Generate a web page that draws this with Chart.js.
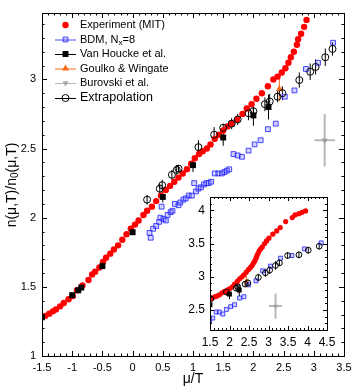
<!DOCTYPE html>
<html>
<head>
<meta charset="utf-8">
<script src="https://cdn.jsdelivr.net/npm/chart.js@4.4.1/dist/chart.umd.min.js"></script>
<style>
  html, body { margin: 0; padding: 0; background: #fff; }
  #wrap { position: relative; width: 363px; height: 391px; }
  #main { position: absolute; left: 0; top: 0; }
  #inset { position: absolute; left: 170px; top: 180px; }
</style>
</head>
<body>
<div id="wrap">
  <canvas id="main" width="363" height="391"></canvas>
  <canvas id="inset" width="180" height="175"></canvas>
</div>
<script>
const FONT = '"Liberation Sans", Arial, sans-serif'

const seriesNames = ['Experiment (MIT)', 'BDM, N', 'Van Houcke et al.', 'Goulko & Wingate', 'Burovski et al.', 'Extrapolation']

const mainXTicks = [-1.5, -1, -0.5, 0, 0.5, 1, 1.5, 2, 2.5, 3, 3.5]
const mainYTicks = [1, 1.5, 2, 2.5, 3]
const insetXTicks = [1.5, 2, 2.5, 3, 3.5, 4, 4.5]
const insetYTicks = [2.5, 3, 3.5, 4]

// main panel
const expMain = [[-1.45,1.29],[-1.38,1.306],[-1.32,1.323],[-1.27,1.337],[-1.2,1.359],[-1.14,1.383],[-1.06,1.41],[-0.99,1.433],
  [-0.92,1.475],[-0.83,1.51],[-0.73,1.55],[-0.67,1.59],[-0.62,1.61],[-0.55,1.64],[-0.49,1.68],[-0.44,1.71],[-0.37,1.74],
  [-0.31,1.77],[-0.24,1.8],[-0.17,1.84],[-0.1,1.88],[-0.03,1.92],[0.04,1.95],[0.1,1.98],[0.18,2.02],[0.24,2.05],[0.32,2.08],
  [0.39,2.12],[0.47,2.16],[0.55,2.2],[0.62,2.23],[0.69,2.26],[0.76,2.29],[0.83,2.32],[0.9,2.35],[0.97,2.39],[1.03,2.43],
  [1.1,2.46],[1.16,2.48],[1.23,2.5],[1.29,2.53],[1.36,2.57],[1.43,2.6],[1.5,2.63],[1.57,2.66],[1.64,2.68],[1.73,2.71],
  [1.82,2.75],[1.89,2.79],[1.97,2.82],[2.05,2.86],[2.14,2.9],[2.24,2.95],[2.33,3.0],[2.4,3.02],[2.47,3.05],[2.53,3.08],
  [2.58,3.12],[2.62,3.16],[2.67,3.2],[2.72,3.25],[2.74,3.29],[2.79,3.33],[2.84,3.38],[2.88,3.43]]
const bdmMain = [[0.28,1.89],[0.3,1.855],[0.34,1.92],[0.39,1.94],[0.44,1.97],[0.46,2.0],[0.48,2.08],[0.51,1.99],[0.55,1.98],
  [0.58,2.02],[0.63,2.04],[0.66,2.05],[0.7,2.1],[0.76,2.09],[0.79,2.11],[0.84,2.13],[0.88,2.14],[0.93,2.16],[0.98,2.16],
  [1.02,2.25],[1.05,2.19],[1.09,2.21],[1.13,2.22],[1.18,2.24],[1.22,2.25],[1.26,2.25],[1.3,2.26],[1.36,2.32],[1.42,2.32],
  [1.48,2.32],[1.52,2.33],[1.56,2.34],[1.6,2.35],[1.67,2.46],[1.74,2.45],[1.81,2.44],[1.92,2.485],[2.02,2.53],[2.12,2.56],
  [2.24,2.64],[2.37,2.68],[2.52,2.875],[2.68,2.92],[2.87,3.075],[3.07,3.12],[3.32,3.265]]
const vhMain = [[-1.5,1.28],[-1.0,1.44],[-0.9,1.475],[-0.85,1.495],[-0.5,1.65],[0,1.895],[0.5,2.15],[1.0,2.38],[1.5,2.58],[2.0,2.74],[2.25,2.8]]
const vhMainErr = [0.012,0.015,0.02,0.015,0.02,0.02,0.04,0.05,0.06,0.075,0.09]
const extMain = [[0.24,2.13],[0.45,2.21],[0.49,2.235],[0.65,2.31],[0.73,2.345],[0.76,2.355],[1.09,2.51],[1.35,2.6],[1.5,2.65],
  [1.64,2.68],[1.74,2.71],[1.92,2.755],[2.0,2.77],[2.19,2.82],[2.27,2.84],[2.4,2.875],[2.48,2.9],[2.76,2.995],[2.94,3.055],
  [3.03,3.09],[3.19,3.16],[3.31,3.22]]
const extMainErr = [0.035,0.035,0.04,0.035,0.035,0.025,0.05,0.055,0.03,0.04,0.04,0.05,0.06,0.05,0.055,0.04,0.05,0.055,0.06,0.055,0.063,0.048]
const gwPoint = [[2.43,2.93]]
const gwErrY = [0.09]
const gwErrX = [0.04]
const burPoint = [[3.18,2.56]]
const burErrY = [0.19]
const burErrX = [0.17]

// inset panel
const expInset = [[1.49,2.67],[1.56,2.68],[1.62,2.7],[1.68,2.71],[1.74,2.73],[1.81,2.76],[1.87,2.78],[1.94,2.8],[2.0,2.82],
  [2.07,2.85],[2.13,2.89],[2.2,2.93],[2.26,2.97],[2.32,3.0],[2.37,3.03],[2.43,3.07],[2.49,3.11],[2.54,3.14],[2.58,3.17],
  [2.62,3.21],[2.65,3.24],[2.68,3.28],[2.7,3.31],[2.73,3.35],[2.76,3.39],[2.8,3.42],[2.84,3.45],[2.9,3.5],[2.95,3.54],
  [3.01,3.58],[3.11,3.64],[3.21,3.69],[3.3,3.74],[3.44,3.83],[3.61,3.89],[3.68,3.93],[3.78,3.95],[3.86,3.97],[3.95,3.99]]
const bdmInset = [[1.49,2.34],[1.57,2.38],[1.66,2.47],[1.74,2.47],[1.83,2.44],[1.92,2.51],[2.03,2.55],[2.13,2.58],[2.26,2.68],
  [2.37,2.7],[2.49,2.88],[2.68,2.94],[2.85,3.09],[3.05,3.16],[3.31,3.28],[3.6,3.32],[3.92,3.42],[4.35,3.51]]
const vhInset = [[1.5,2.58],[2.0,2.74],[2.25,2.8]]
const vhInsetErr = [0.06,0.075,0.09]
const extInset = [[1.52,2.67],[1.92,2.77],[2.17,2.83],[2.21,2.85],[2.4,2.89],[2.47,2.91],[2.74,2.99],[2.92,3.06],[3.03,3.1],
  [3.18,3.17],[3.28,3.21],[3.49,3.32],[3.78,3.33],[4.02,3.4],[4.3,3.46]]
const extInsetErr = [0.03,0.05,0.05,0.055,0.04,0.05,0.055,0.06,0.055,0.063,0.048,0.05,0.05,0.05,0.05]

const toPts = a => a.map(p => ({ x: p[0], y: p[1] }))

const RED = '#ff0000'
const BLUE = 'rgba(30,30,255,0.8)'
const BLUE_FILL = 'rgba(110,110,255,0.3)'
const ORANGE = '#ff6a1a'
const GREY = 'rgba(150,150,150,0.8)'

function makeDatasets(d, s) {
  return [
    { data: toPts(d.ext), pointStyle: 'circle', radius: 3.5 * s, borderColor: '#000', backgroundColor: 'rgba(0,0,0,0)',
      borderWidth: 1, yErr: d.extErr, errColor: '#000' },
    { data: toPts(d.vh), pointStyle: 'rect', radius: 4.2 * s, borderColor: '#000', backgroundColor: '#000',
      borderWidth: 0, yErr: d.vhErr, errColor: '#000' },
    { data: toPts(d.exp), pointStyle: 'circle', radius: 3.2 * s, borderColor: RED, backgroundColor: RED, borderWidth: 0 },
    { data: toPts(d.bdm), pointStyle: 'rect', radius: 3.4 * s, borderColor: BLUE, backgroundColor: BLUE_FILL, borderWidth: 1 },
    { data: toPts(gwPoint), pointStyle: 'triangle', radius: 4 * s, borderColor: ORANGE, backgroundColor: ORANGE,
      borderWidth: 0, yErr: gwErrY, xErr: gwErrX, errColor: ORANGE },
    { data: toPts(burPoint), pointStyle: 'triangle', rotation: 180, radius: 3.5 * s, borderColor: GREY, backgroundColor: GREY,
      borderWidth: 0, yErr: burErrY, xErr: burErrX, errColor: 'rgba(160,160,160,0.75)', errWidth: 2 },
  ]
}

// frame with inward ticks on all four sides
const frameTicks = {
  id: 'frameTicks',
  beforeDraw(chart, args, o) {
    if (!o.white) return
    const a = chart.chartArea
    chart.ctx.save()
    chart.ctx.fillStyle = '#fff'
    chart.ctx.fillRect(a.left, a.top, a.right - a.left, a.bottom - a.top)
    chart.ctx.restore()
  },
  afterDraw(chart, args, o) {
    const { ctx, chartArea: a, scales: { x, y } } = chart
    ctx.save()
    ctx.strokeStyle = '#000'
    ctx.lineWidth = 1
    ctx.strokeRect(Math.round(a.left) + 0.5, Math.round(a.top) + 0.5, Math.round(a.right - a.left), Math.round(a.bottom - a.top))
    ctx.beginPath()
    const step = 0.1
    const isMajor = v => Math.abs(v / 0.5 - Math.round(v / 0.5)) < 1e-6
    for (let k = Math.ceil(x.min / step - 1e-6); k * step <= x.max + 1e-6; k++) {
      const v = k * step
      const len = isMajor(v) ? o.major : o.minor
      const px = Math.round(x.getPixelForValue(v)) + 0.5
      ctx.moveTo(px, a.bottom); ctx.lineTo(px, a.bottom - len)
      ctx.moveTo(px, a.top); ctx.lineTo(px, a.top + len)
    }
    for (let k = Math.ceil(y.min / step - 1e-6); k * step <= y.max + 1e-6; k++) {
      const v = k * step
      const len = isMajor(v) ? o.major : o.minor
      const py = Math.round(y.getPixelForValue(v)) + 0.5
      ctx.moveTo(a.left, py); ctx.lineTo(a.left + len, py)
      ctx.moveTo(a.right, py); ctx.lineTo(a.right - len, py)
    }
    ctx.stroke()
    ctx.restore()
  },
}

const errorBars = {
  id: 'errorBars',
  beforeDatasetsDraw(chart) {
    const { ctx, chartArea: a, scales: { x, y } } = chart
    ctx.save()
    ctx.beginPath()
    ctx.rect(a.left, a.top, a.right - a.left, a.bottom - a.top)
    ctx.clip()
    chart.data.datasets.forEach(ds => {
      if (!ds.yErr && !ds.xErr) return
      ctx.strokeStyle = ds.errColor
      ctx.lineWidth = ds.errWidth || 1
      ds.data.forEach((p, i) => {
        const px = x.getPixelForValue(p.x)
        const py = y.getPixelForValue(p.y)
        ctx.beginPath()
        if (ds.yErr) {
          ctx.moveTo(px, y.getPixelForValue(p.y - ds.yErr[i]))
          ctx.lineTo(px, y.getPixelForValue(p.y + ds.yErr[i]))
        }
        if (ds.xErr) {
          ctx.moveTo(x.getPixelForValue(p.x - ds.xErr[i]), py)
          ctx.lineTo(x.getPixelForValue(p.x + ds.xErr[i]), py)
        }
        ctx.stroke()
      })
    })
    ctx.restore()
  },
}

function marker(ctx, style, x, y, r, fill, stroke, rot) {
  ctx.save()
  ctx.fillStyle = fill
  ctx.strokeStyle = stroke
  ctx.lineWidth = 1
  Chart.helpers.drawPoint(ctx, { pointStyle: style, radius: r, rotation: rot || 0, borderWidth: stroke ? 1 : 0 }, x, y)
  ctx.restore()
}

// legend, axis titles (with subscripts)
const annotations = {
  id: 'annotations',
  afterDraw(chart) {
    const ctx = chart.ctx
    ctx.save()
    ctx.fillStyle = '#000'
    ctx.textBaseline = 'middle'
    const rows = [
      { y: 25, style: 'circle', r: 3.2, fill: RED, stroke: null, line: null },
      { y: 39.5, style: 'rect', r: 3.4, fill: BLUE_FILL, stroke: BLUE, line: BLUE },
      { y: 54, style: 'rect', r: 4.2, fill: '#000', stroke: null, line: '#000' },
      { y: 68.5, style: 'triangle', r: 4, fill: ORANGE, stroke: null, line: ORANGE },
      { y: 83, style: 'triangle', r: 3.5, fill: GREY, stroke: null, line: 'rgba(160,160,160,0.75)', rot: 180 },
      { y: 98, style: 'circle', r: 3.5, fill: 'rgba(0,0,0,0)', stroke: '#000', line: '#000' },
    ]
    rows.forEach((row, i) => {
      if (row.line) {
        ctx.strokeStyle = row.line
        ctx.lineWidth = 1
        ctx.beginPath()
        ctx.moveTo(55, row.y + 0.5); ctx.lineTo(76, row.y + 0.5)
        ctx.stroke()
      }
      marker(ctx, row.style, 65.5, row.y, row.r, row.fill, row.stroke, row.rot)
      ctx.fillStyle = '#000'
      ctx.font = (i === 5 ? '12.5px ' : '11px ') + FONT
      ctx.fillText(seriesNames[i], 80, row.y)
      if (i === 1) {
        let w = ctx.measureText(seriesNames[i]).width + 80
        ctx.font = '8px ' + FONT
        ctx.fillText('x', w, row.y + 3)
        w += ctx.measureText('x').width
        ctx.font = '11px ' + FONT
        ctx.fillText('=8', w, row.y)
      }
    })

    // x title
    ctx.font = '14px ' + FONT
    ctx.textAlign = 'center'
    ctx.fillText('\u03bc/T', 193, 379)

    // y title, rotated
    ctx.translate(12, 185)
    ctx.rotate(-Math.PI / 2)
    ctx.textAlign = 'left'
    const big = '14px ' + FONT, small = '10px ' + FONT
    const parts = [['n(\u03bc,T)/n', big, 0], ['0', small, 3], ['(\u03bc,T)', big, 0]]
    let total = 0
    parts.forEach(p => { ctx.font = p[1]; total += ctx.measureText(p[0]).width })
    let cx = -total / 2
    parts.forEach(p => {
      ctx.font = p[1]
      ctx.fillText(p[0], cx, p[2])
      cx += ctx.measureText(p[0]).width
    })
    ctx.restore()
  },
}

function axis(min, max, ticks, size, isX, fontSize, pad) {
  return {
    type: 'linear',
    min: min,
    max: max,
    grid: { display: false, drawTicks: false },
    border: { display: false },
    afterBuildTicks: s => { s.ticks = ticks.map(v => ({ value: v })) },
    afterFit: s => { if (isX) s.height = size; else s.width = size },
    ticks: { color: '#000', font: { family: FONT, size: fontSize }, padding: pad, autoSkip: false, maxRotation: 0,
      callback: v => String(v) },
  }
}

new Chart(document.getElementById('main'), {
  type: 'scatter',
  data: { datasets: makeDatasets({ exp: expMain, bdm: bdmMain, vh: vhMain, vhErr: vhMainErr, ext: extMain, extErr: extMainErr }, 1) },
  options: {
    responsive: false,
    animation: false,
    layout: { padding: { top: 13, right: 19, left: 0, bottom: 0 } },
    plugins: { legend: { display: false }, tooltip: { enabled: false }, frameTicks: { major: 5, minor: 2.5 } },
    scales: {
      x: axis(-1.5, 3.5, mainXTicks, 35, true, 11, 5),
      y: axis(1, 3.48, mainYTicks, 42, false, 11, 6),
    },
  },
  plugins: [frameTicks, errorBars, annotations],
})

new Chart(document.getElementById('inset'), {
  type: 'scatter',
  data: { datasets: makeDatasets({ exp: expInset, bdm: bdmInset, vh: vhInset, vhErr: vhInsetErr, ext: extInset, extErr: extInsetErr }, 0.82) },
  options: {
    responsive: false,
    animation: false,
    layout: { padding: { top: 17, right: 23, left: 0, bottom: 0 } },
    plugins: { legend: { display: false }, tooltip: { enabled: false }, frameTicks: { major: 4, minor: 2, white: true } },
    scales: {
      x: axis(1.5, 4.5, insetXTicks, 25, true, 12, 5),
      y: axis(2.2, 4.2, insetYTicks, 40, false, 12, 5),
    },
  },
  plugins: [frameTicks, errorBars],
})
</script>
</body>
</html>
